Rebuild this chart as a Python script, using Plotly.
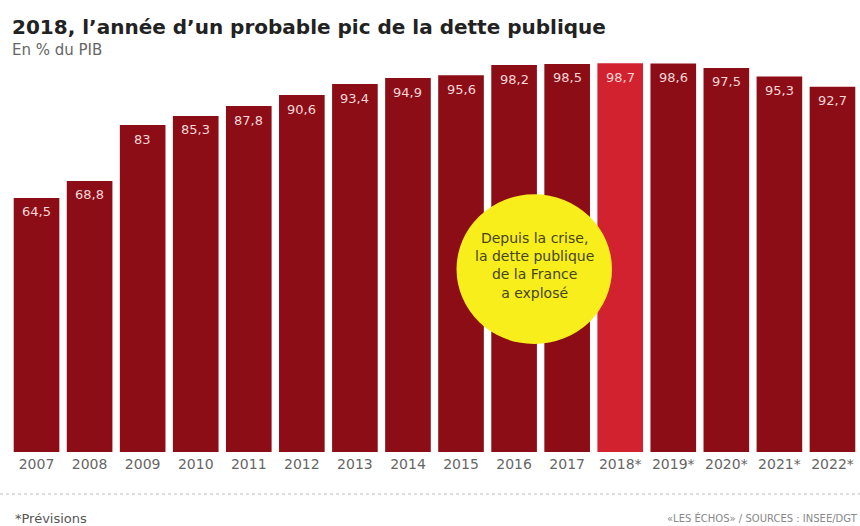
import plotly.graph_objects as go

years = ["2007", "2008", "2009", "2010", "2011", "2012", "2013", "2014",
         "2015", "2016", "2017", "2018*", "2019*", "2020*", "2021*", "2022*"]
values = [64.5, 68.8, 83, 85.3, 87.8, 90.6, 93.4, 94.9,
          95.6, 98.2, 98.5, 98.7, 98.6, 97.5, 95.3, 92.7]
highlight = "2018*"

dark = "#8c0d16"
bright = "#d3222f"
colors = [bright if y == highlight else dark for y in years]
labels = [f"{v:g}".replace(".", ",") for v in values]

FONT = "DejaVu Sans, Arial, sans-serif"

fig = go.Figure(go.Bar(
    x=list(range(len(years))), y=values,
    marker=dict(color=colors, line=dict(width=0)),
    hoverinfo="skip",
))
# value labels near bar tops
for i, (v, lab) in enumerate(zip(values, labels)):
    fig.add_annotation(x=i, y=v, xref="x", yref="y", text=lab, showarrow=False,
                       yanchor="middle", yshift=-14,
                       font=dict(family=FONT, size=13, color="#f5d6d6"))

fig.update_layout(
    width=860, height=526,
    margin=dict(l=10, r=1, t=60, b=74),
    paper_bgcolor="white", plot_bgcolor="white",
    bargap=0.14, showlegend=False,
    font=dict(family=FONT),
)
fig.update_xaxes(
    range=[-0.5, len(years) - 0.5],
    tickmode="array", tickvals=list(range(len(years))), ticktext=years,
    tickfont=dict(size=14, color="#666", family=FONT), ticks="", showgrid=False,
    zeroline=False, showline=False, ticklabelstandoff=2,
)
fig.update_yaxes(range=[0, 99.5], visible=False, showgrid=False)

H_plot = 526 - 60 - 74
W_plot = 860 - 10 - 1
def py(pix):  # pixel y (from top) -> paper y
    return (526 - 74 - pix) / H_plot
def px(pix):
    return (pix - 10) / W_plot

# yellow bubble
cx, cy, rx, ry = 9.38, 46.4, 1.465, 19.0
fig.add_shape(type="circle", xref="x", yref="y",
              x0=cx - rx, x1=cx + rx, y0=cy - ry, y1=cy + ry,
              fillcolor="#f8ee1c", line=dict(width=0), layer="above")
fig.add_annotation(x=cx, y=cy + 1.0, xref="x", yref="y",
                   text="Depuis la crise,<br>la dette publique<br>de la France<br>a explosé",
                   showarrow=False, align="center",
                   font=dict(size=14, color="#45451c", family=FONT))

# title & subtitle
fig.add_annotation(x=px(10), y=py(27), xref="paper", yref="paper",
                   text="<b>2018, l’année d’un probable pic de la dette publique</b>",
                   showarrow=False, xanchor="left", yanchor="middle",
                   font=dict(size=20, color="#222", family=FONT))
fig.add_annotation(x=px(10), y=py(50), xref="paper", yref="paper",
                   text="En % du PIB", showarrow=False, xanchor="left", yanchor="middle",
                   font=dict(size=15, color="#666", family=FONT))

# footer
fig.add_shape(type="line", xref="paper", yref="paper",
              x0=px(0), x1=px(860), y0=py(494), y1=py(494),
              line=dict(color="#bbb", width=1, dash="dot"))
fig.add_annotation(x=px(13), y=py(518), xref="paper", yref="paper",
                   text="*Prévisions", showarrow=False, xanchor="left", yanchor="middle",
                   font=dict(size=13, color="#555", family=FONT))
fig.add_annotation(x=px(860), y=py(518), xref="paper", yref="paper",
                   text="«LES ÉCHOS» / SOURCES : INSEE/DGT", showarrow=False,
                   xanchor="right", yanchor="middle",
                   font=dict(size=10, color="#888", family=FONT))

fig.write_html("out.html")
